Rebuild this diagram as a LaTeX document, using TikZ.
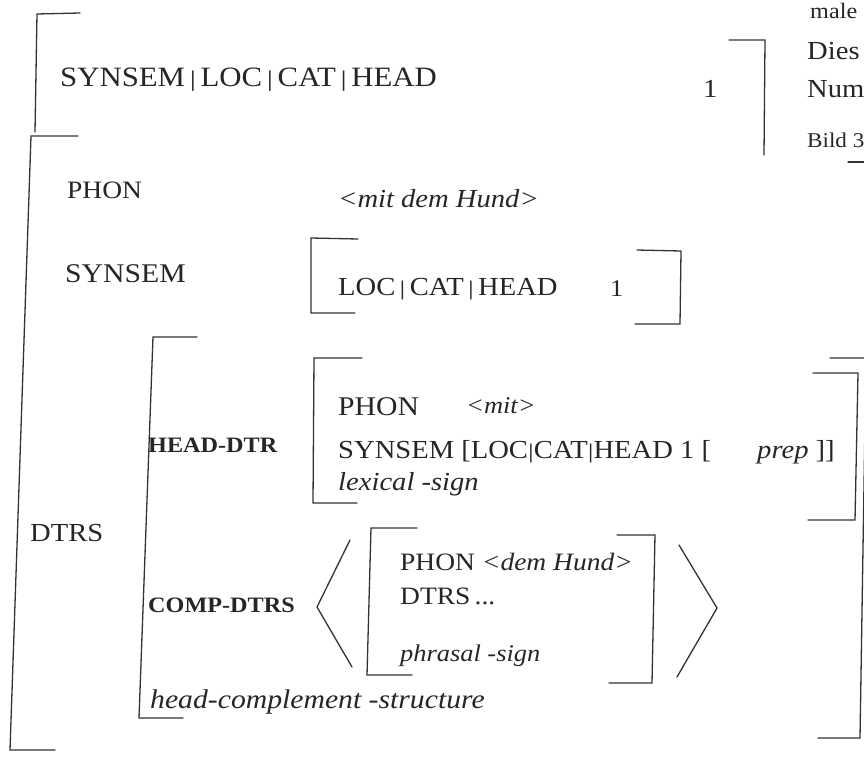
\documentclass[tikz,border=0pt]{standalone}
\usepackage{fontspec}
\setmainfont{Liberation Serif}[FakeStretch=1.1]
\usepackage{graphicx}
\newcommand\vsep{\thinspace\scalebox{1}[0.8]{|}\thinspace}
\newcommand\vsept{\scalebox{1}[0.8]{|}}
\begin{document}
\begin{tikzpicture}[x=1pt,y=-1pt,
  br/.style={line width=1.3pt, draw=black!80, line cap=round, line join=miter},
  t/.style={anchor=base west, inner sep=0pt, text=black!85},
  big/.style={t, font=\fontsize{28}{32}\selectfont},
  rm/.style={t, font=\fontsize{26}{30}\selectfont},
  it/.style={t, font=\fontsize{26}{30}\selectfont\itshape},
  bfl/.style={t, font=\fontsize{22}{24}\selectfont\bfseries},
  side/.style={t, font=\fontsize{26}{28}\selectfont},
]
\useasboundingbox (0,0) rectangle (864,771);
\clip (0,0) rectangle (864,771);
\fill[white] (0,0) rectangle (864,771);

% ---------- top matrix ----------
\node[big] (topPath) at (60,86) {SYNSEM\vsep LOC\vsep CAT\vsep HEAD};
\node[rm] (topOne) at (703,97) {1};
\draw[br] (80,13) -- (37,14) -- (35,132);
\draw[br] (729,40) -- (765,40) -- (764,155);

% ---------- side text (next column) ----------
\node[side, font=\fontsize{22}{24}\selectfont] (sMale) at (810,18) {male};
\node[side] (sDies) at (807,59) {Dies};
\node[side] (sNum) at (807,97) {Num};
\node[t, font=\fontsize{21}{22}\selectfont] (sBild) at (807,147) {Bild 3};
\draw[br] (848,162) -- (866,162);

% ---------- main matrix ----------
\draw[br] (78,136) -- (31,136) -- (10,750) -- (55,750);
\draw[br] (830,358) -- (866,358) -- (860,738) -- (818,738);

\node[t, font=\fontsize{25}{28}\selectfont] (phon1) at (67,198) {PHON};
\node[it] (phon1v) at (338,207) {<mit dem Hund>};

\node[t, font=\fontsize{27}{30}\selectfont] (syn1) at (65,282) {SYNSEM};
\draw[br] (358,239) -- (311,238) -- (311,313) -- (355,313);
\node[rm] (syn1v) at (338,295) {LOC\vsep CAT\vsep HEAD};
\node[t, font=\fontsize{24}{26}\selectfont] (syn1one) at (610,296) {1};
\draw[br] (637,250) -- (681,251) -- (680,324) -- (635,324);

\node[rm] (dtrs) at (30,541) {DTRS};
\draw[br] (197,337) -- (153,337) -- (139,718) -- (183,718);

% head daughter
\node[bfl] (hd) at (148,452) {HEAD-DTR};
\draw[br] (362,358) -- (314,358) -- (313,503) -- (357,503);
\node[t, font=\fontsize{27}{30}\selectfont] (hdphon) at (338,415) {PHON};
\node[t, font=\fontsize{24}{26}\selectfont\itshape] (hdphonv) at (466,413) {<mit>};
\node[rm] (hdsyn) at (338,458) {SYNSEM [LOC\vsept CAT\vsept HEAD 1 [};
\node[rm] (hdprep) at (757,458) {\textit{prep} ]]};
\node[it] (hdsort) at (338,490) {lexical -sign};
\draw[br] (813,373) -- (858,373) -- (855,520) -- (808,520);

% complement daughters
\node[bfl] (cd) at (148,612) {COMP-DTRS};
\draw[br] (350,540) -- (317,607) -- (352,667);
\draw[br] (417,528) -- (371,528) -- (367,675) -- (412,675);
\node[t, font=\fontsize{25}{28}\selectfont] (cdphon) at (400,570) {PHON \textit{<dem Hund>}};
\node[t, font=\fontsize{25}{28}\selectfont] (cddtrs) at (400,604) {DTRS\,...};
\node[t, font=\fontsize{24}{28}\selectfont\itshape] (cdsort) at (400,661) {phrasal -sign};
\draw[br] (617,535) -- (655,535) -- (652,683) -- (609,683);
\draw[br] (679,545) -- (717,608) -- (677,677);

\node[t, font=\fontsize{27}{30}\selectfont\itshape] (hcs) at (150,708) {head-complement -structure};
\end{tikzpicture}
\end{document}
